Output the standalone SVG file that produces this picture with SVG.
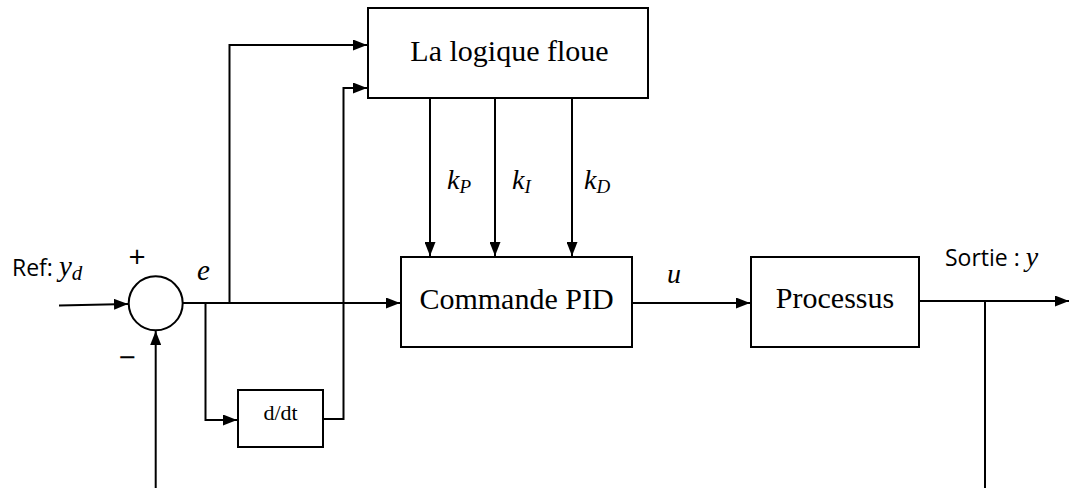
<svg xmlns="http://www.w3.org/2000/svg" width="1069" height="488" viewBox="0 0 1069 488">
<style>
.box{fill:#fff;stroke:#000;stroke-width:2}
.ln{fill:none;stroke:#000;stroke-width:2}
.serif{font-family:"Liberation Serif","Times New Roman",serif;fill:#000}
.sans{font-family:"Open Sans","Liberation Sans",Arial,sans-serif;fill:#000}
.m{font-family:"Liberation Serif","Times New Roman",serif;font-style:italic;fill:#000}
</style>
<defs>
<marker id="ah" viewBox="0 0 14 11" refX="14" refY="5.5" markerWidth="14" markerHeight="11" markerUnits="userSpaceOnUse" orient="auto">
<path d="M0,0 L14,5.5 L0,11 Z" fill="#000"/>
</marker>
</defs>
<g id="connectors">
<path class="ln" d="M59,305.5 L128,304" marker-end="url(#ah)"/>
<path class="ln" d="M155.7,488 L155.7,331" marker-end="url(#ah)"/>
<path class="ln" d="M183,303 L400,303" marker-end="url(#ah)"/>
<path class="ln" d="M229.5,303 L229.5,45 L367,45" marker-end="url(#ah)"/>
<path class="ln" d="M205.5,303 L205.5,420 L237,420" marker-end="url(#ah)"/>
<path class="ln" d="M323,419 L343.5,419 L343.5,88 L367,88" marker-end="url(#ah)"/>
<path class="ln" d="M430,98 L430,256" marker-end="url(#ah)"/>
<path class="ln" d="M495,98 L495,256" marker-end="url(#ah)"/>
<path class="ln" d="M572,98 L572,256" marker-end="url(#ah)"/>
<path class="ln" d="M632,303 L750,303" marker-end="url(#ah)"/>
<path class="ln" d="M919,301 L1069,301" marker-end="url(#ah)"/>
<path class="ln" d="M985,301 L985,488"/>
</g>
<g id="sum">
<circle cx="155.7" cy="303.3" r="27" class="box"/>
<text x="137" y="267" class="sans" font-size="30" text-anchor="middle">+</text>
<text x="127" y="368" class="sans" font-size="30" text-anchor="middle">−</text>
</g>
<g id="ref-label">
<text x="12" y="276" class="sans" font-size="23">Ref: <tspan class="m" font-size="29">y</tspan><tspan class="m" font-size="21" dy="4">d</tspan></text>
</g>
<g id="e-label"><text x="197" y="280" class="m" font-size="29">e</text></g>
<g id="fuzzy">
<rect x="368" y="8" width="280" height="90" class="box"/>
<text x="509.5" y="61" class="serif" font-size="30" text-anchor="middle">La logique floue</text>
</g>
<g id="gains">
<text x="447" y="189" class="m" font-size="28">k<tspan font-size="19" dy="4">P</tspan></text>
<text x="512" y="189" class="m" font-size="28">k<tspan font-size="19" dy="4">I</tspan></text>
<text x="584" y="189" class="m" font-size="28">k<tspan font-size="19" dy="4">D</tspan></text>
</g>
<g id="pid">
<rect x="401" y="257" width="231" height="90" class="box"/>
<text x="516.5" y="309" class="serif" font-size="30" text-anchor="middle">Commande PID</text>
</g>
<g id="u-label"><text x="667" y="283" class="m" font-size="28">u</text></g>
<g id="process">
<rect x="751" y="257" width="168" height="90" class="box"/>
<text x="835" y="308" class="serif" font-size="30" text-anchor="middle">Processus</text>
</g>
<g id="ddt">
<rect x="238" y="390" width="85" height="57" class="box"/>
<text x="280.5" y="420" class="serif" font-size="22" text-anchor="middle">d/dt</text>
</g>
<g id="out-label">
<text x="945" y="266" class="sans" font-size="23">Sortie : <tspan class="m" font-size="28">y</tspan></text>
</g>
</svg>
